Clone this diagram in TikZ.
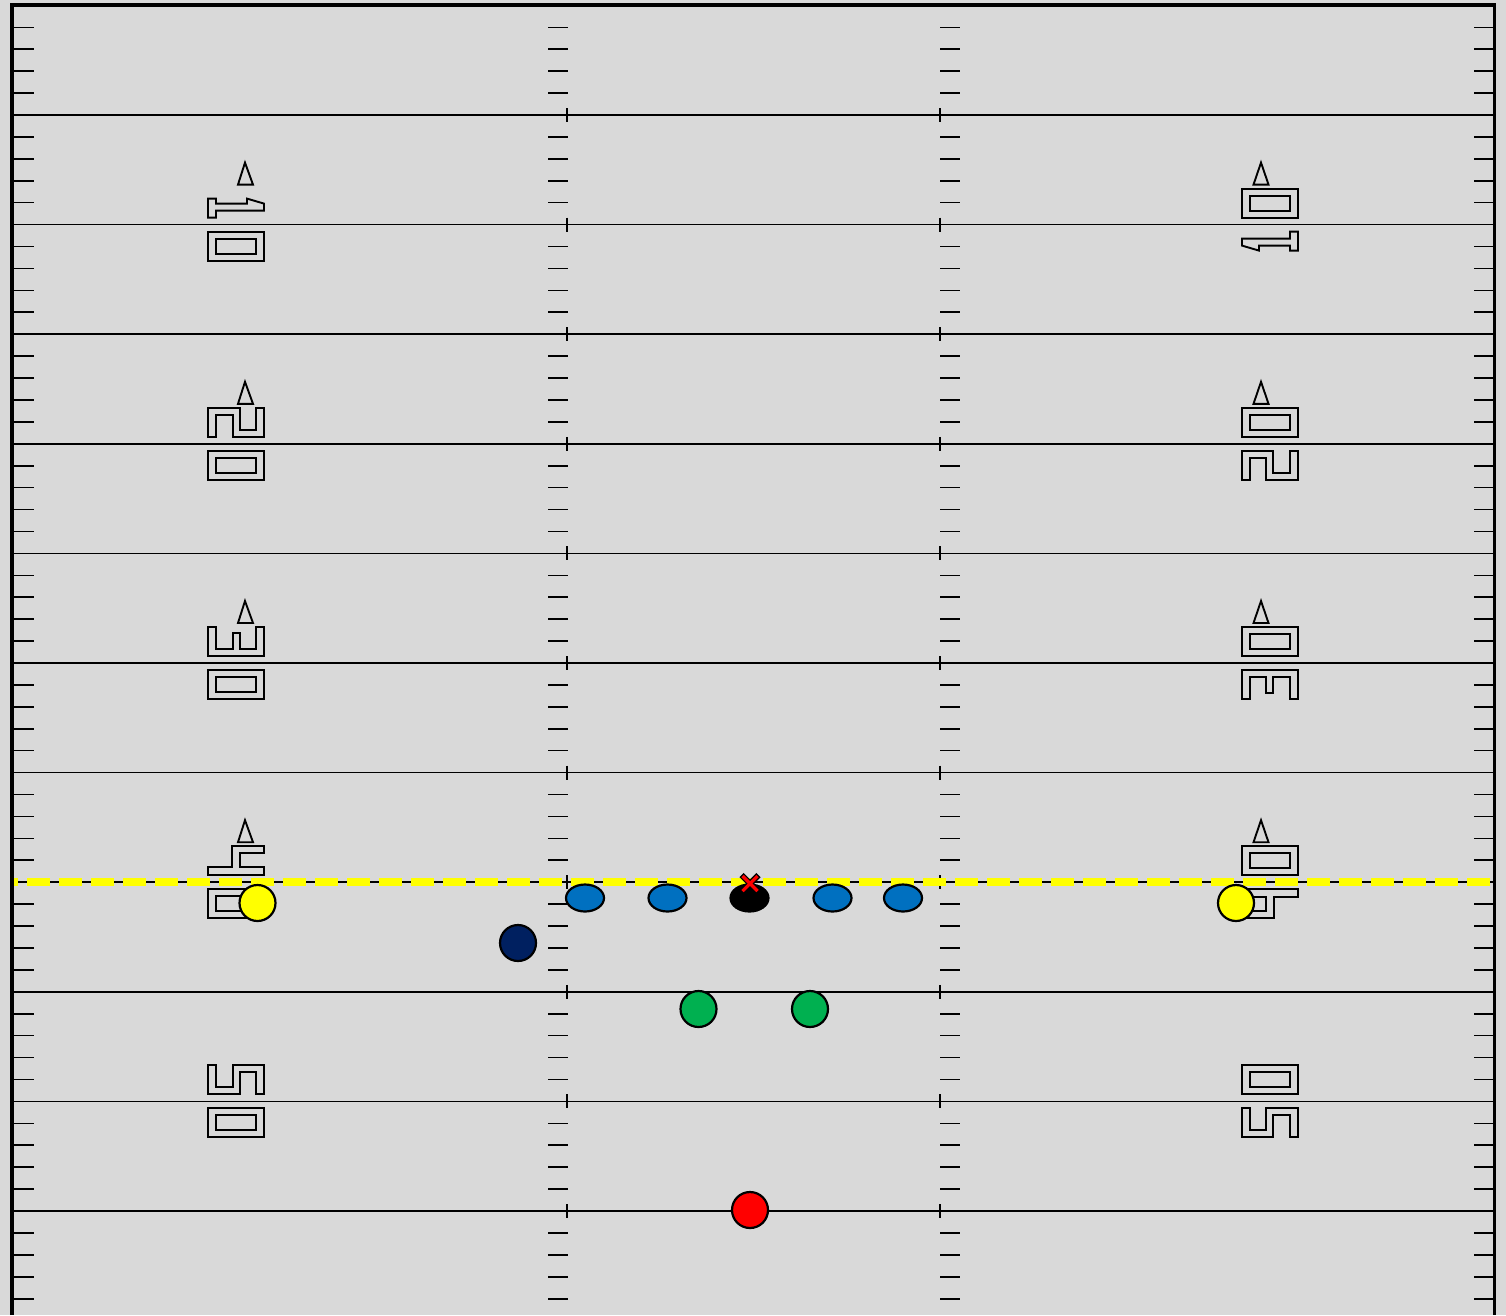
\documentclass[tikz,border=0pt]{standalone}
\usetikzlibrary{shapes.geometric}
\definecolor{field}{HTML}{D9D9D9}
\definecolor{losyellow}{HTML}{FFFF00}
\definecolor{olblue}{HTML}{0070C0}
\definecolor{navy}{HTML}{002060}
\definecolor{rbgreen}{HTML}{00B050}
\definecolor{qbred}{HTML}{FF0000}
\tikzset{
  yardline/.style={line width=1.5pt},
  hashmark/.style={line width=1.6pt},
  border/.style={line width=3.6pt},
  numline/.style={line width=1.9pt, line join=miter},
  player/.style={circle, draw=black, line width=2.2pt, minimum size=36pt, inner sep=0pt},
  lineman/.style={ellipse, draw=black, line width=2.2pt, minimum width=38pt, minimum height=27pt, inner sep=0pt},
  pics/dzero/.style={code={\draw[numline] (0,0) rectangle (56,29); \draw[numline] (8,7) rectangle (48,22);}},
  pics/done/.style={code={\draw[numline] (0,10) -- (8,10) -- (8,15) -- (39,15) -- (39,10) -- (56,15) -- (56,22) -- (8,22) -- (8,29) -- (0,29) -- cycle;}},
  pics/dtwo/.style={code={\draw[numline] (0,29) -- (0,0) -- (32,0) -- (32,22) -- (48,22) -- (48,0) -- (56,0) -- (56,29) -- (25,29) -- (25,7) -- (8,7) -- (8,29) -- cycle;}},
  pics/dthree/.style={code={\draw[numline] (0,0) -- (8,0) -- (8,22) -- (25,22) -- (25,6) -- (32,6) -- (32,22) -- (48,22) -- (48,0) -- (56,0) -- (56,29) -- (0,29) -- cycle;}},
  pics/dfour/.style={code={\draw[numline] (0,21) -- (24,21) -- (24,0) -- (56,0) -- (56,7) -- (32,7) -- (32,21) -- (56,21) -- (56,29) -- (0,29) -- cycle;}},
  pics/dfive/.style={code={\draw[numline] (0,0) -- (8,0) -- (8,22) -- (25,22) -- (25,0) -- (56,0) -- (56,29) -- (48,29) -- (48,7) -- (32,7) -- (32,29) -- (0,29) -- cycle;}},
}
\begin{document}
\begin{tikzpicture}[x=1pt,y=-1pt]
\fill[field] (0,0) rectangle (1506,1315);
\useasboundingbox (0,0) rectangle (1506,1315);

% one-yard hash marks
\foreach \k in {0,...,11}{
  \foreach \j in {1,2,3,4}{
    \pgfmathsetmacro\yy{5.4+21.92*(5*\k+\j)}
    \draw[hashmark] (14,\yy) -- (34,\yy);
    \draw[hashmark] (548,\yy) -- (568,\yy);
    \draw[hashmark] (940,\yy) -- (960,\yy);
    \draw[hashmark] (1474,\yy) -- (1494,\yy);
  }
}
% five-yard lines
\foreach \i in {1,...,11}{
  \pgfmathsetmacro\yy{5.4+109.6*\i}
  \draw[yardline] (12,\yy) -- (1494,\yy);
}
% hash ticks on the five-yard lines
\foreach \i in {1,...,11}{
  \pgfmathsetmacro\yy{5.4+109.6*\i}
  \draw[hashmark] (567,\yy-7) -- (567,\yy+7);
  \draw[hashmark] (940,\yy-7) -- (940,\yy+7);
}
% line of scrimmage: thick yellow dashes over the black line
\fill[losyellow] (10,878) rectangle (18,886);
\foreach \k in {1,...,46}{
  \pgfmathsetmacro\xa{-5+32*\k}
  \pgfmathsetmacro\xb{min(\xa+23,1496)}
  \fill[losyellow] (\xa,878) rectangle (\xb,886);
}

% yard numbers (left side read downward, right side turned round)
\foreach \L/\tens in {224.6/done, 443.8/dtwo, 663.0/dthree, 882.2/dfour, 1101.4/dfive}{
  \pic at (208,\L-36) {\tens};
  \pic at (208,\L+7) {dzero};
  \pic[rotate=180] at (1298,\L+36) {\tens};
  \pic[rotate=180] at (1298,\L-7) {dzero};
}
% direction arrows
\foreach \L in {224.6, 443.8, 663.0, 882.2}{
  \draw[numline] (245,\L-62) -- (253,\L-40) -- (238,\L-40) -- cycle;
  \draw[numline] (1261,\L-62) -- (1268.5,\L-40) -- (1253.5,\L-40) -- cycle;
}

% border
\draw[border] (12,1315) -- (12,5) -- (1494.5,5) -- (1494.5,1315);

% players
\node[player, fill=losyellow] (wrl) at (257.5,903) {};
\node[player, fill=losyellow] (wrr) at (1236,903) {};
\node[player, fill=navy] (te) at (518,943) {};
\node[lineman, fill=olblue] (lt) at (585,898) {};
\node[lineman, fill=olblue] (lg) at (667.5,898) {};
\node[lineman, fill=black] (c) at (749.5,898) {};
\node[lineman, fill=olblue] (rg) at (832.5,898) {};
\node[lineman, fill=olblue] (rt) at (903,898) {};
\node[player, fill=rbgreen] (hbl) at (698.5,1009) {};
\node[player, fill=rbgreen] (hbr) at (810,1009) {};
\node[player, fill=qbred] (qb) at (750,1210) {};
% ball marker
\coordinate (ball) at (750,883.5);
\draw[black, line width=6pt] ([shift={(-8.5,-8.5)}]ball) -- ([shift={(8.5,8.5)}]ball);
\draw[black, line width=6pt] ([shift={(-8.5,8.5)}]ball) -- ([shift={(8.5,-8.5)}]ball);
\draw[qbred, line width=3.2pt] ([shift={(-7.5,-7.5)}]ball) -- ([shift={(7.5,7.5)}]ball);
\draw[qbred, line width=3.2pt] ([shift={(-7.5,7.5)}]ball) -- ([shift={(7.5,-7.5)}]ball);
\end{tikzpicture}
\end{document}
